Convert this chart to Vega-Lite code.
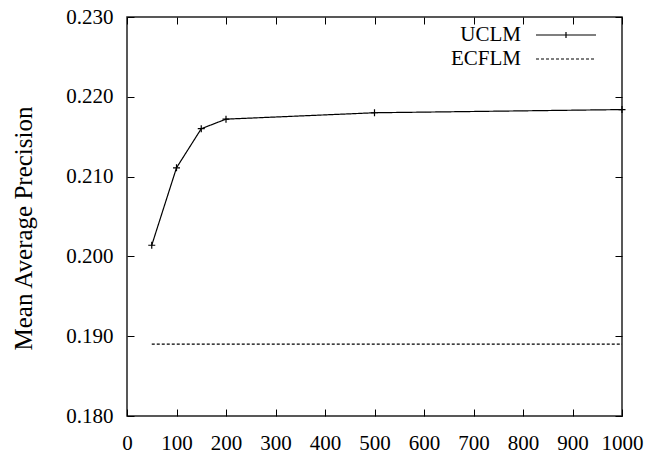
{
  "$schema": "https://vega.github.io/schema/vega-lite/v6.json",
  "width": 495,
  "height": 399,
  "autosize": {"type": "none"},
  "padding": {"left": 127, "top": 17, "right": 28, "bottom": 40},
  "background": "white",
  "config": {
    "font": "Liberation Serif",
    "view": {"stroke": "#222", "strokeWidth": 1.5},
    "axis": {"labelFont": "Liberation Serif", "titleFont": "Liberation Serif", "labelFontSize": 21, "titleFontSize": 25, "titleFontWeight": "normal", "labelColor": "black", "titleColor": "black", "grid": false, "domain": false, "tickColor": "black", "tickSize": -7, "tickWidth": 1}
  },
  "data": {"values": [
    {"n": 50, "map": 0.2014, "series": "UCLM"},
    {"n": 100, "map": 0.2111, "series": "UCLM"},
    {"n": 150, "map": 0.2160, "series": "UCLM"},
    {"n": 200, "map": 0.2172, "series": "UCLM"},
    {"n": 500, "map": 0.2180, "series": "UCLM"},
    {"n": 1000, "map": 0.2184, "series": "UCLM"},
    {"n": 50, "map": 0.1890, "series": "ECFLM"},
    {"n": 1000, "map": 0.1890, "series": "ECFLM"}
  ]},
  "layer": [
    {
      "mark": {"type": "line", "color": "black", "strokeWidth": 1.2},
      "encoding": {
        "x": {"field": "n", "type": "quantitative", "scale": {"domain": [0, 1000], "nice": false},
          "axis": {"title": null, "format": "d", "values": [0,100,200,300,400,500,600,700,800,900,1000], "labelPadding": 23, "labelFlush": false}},
        "y": {"field": "map", "type": "quantitative", "scale": {"domain": [0.18, 0.23], "nice": false, "zero": false},
          "axis": {"title": "Mean Average Precision", "format": ".3f", "values": [0.18,0.19,0.2,0.21,0.22,0.23], "labelPadding": 21, "titlePadding": 29, "titleY": 211}},
        "strokeDash": {"field": "series", "type": "nominal",
          "scale": {"domain": ["UCLM", "ECFLM"], "range": [[1, 0], [3, 2]]},
          "legend": {"orient": "none", "legendX": 428, "legendY": 7, "title": null,
            "labelFontSize": 21, "labelFont": "Liberation Serif", "labelColor": "black",
            "labelAlign": "right", "labelOffset": -56,
            "symbolSize": 400, "symbolStrokeColor": "black", "symbolStrokeWidth": 1.2,
            "symbolType": "M-3,0H3", "rowPadding": 3,
            "encode": {"symbols": {"update": {"shape": {"signal": "datum.value === 'UCLM' ? 'M-3,0H3M0,-0.3V0.3' : 'M-3,0H3'"}}}}}
        }
      }
    },
    {
      "transform": [{"filter": "datum.series === 'UCLM'"}],
      "mark": {"type": "point", "shape": "M-1,0H1M0,-1V1", "size": 49, "filled": false, "color": "black", "strokeWidth": 1.2, "opacity": 1},
      "encoding": {
        "x": {"field": "n", "type": "quantitative", "axis": null},
        "y": {"field": "map", "type": "quantitative", "axis": null}
      }
    },
    {
      "mark": {"type": "point", "opacity": 0},
      "encoding": {
        "x": {"field": "n", "type": "quantitative",
          "axis": {"orient": "top", "title": null, "labels": false, "values": [0,100,200,300,400,500,600,700,800,900,1000]}},
        "y": {"field": "map", "type": "quantitative",
          "axis": {"orient": "right", "title": null, "labels": false, "values": [0.18,0.19,0.2,0.21,0.22,0.23]}}
      }
    }
  ],
  "resolve": {"axis": {"x": "independent", "y": "independent"}}
}
